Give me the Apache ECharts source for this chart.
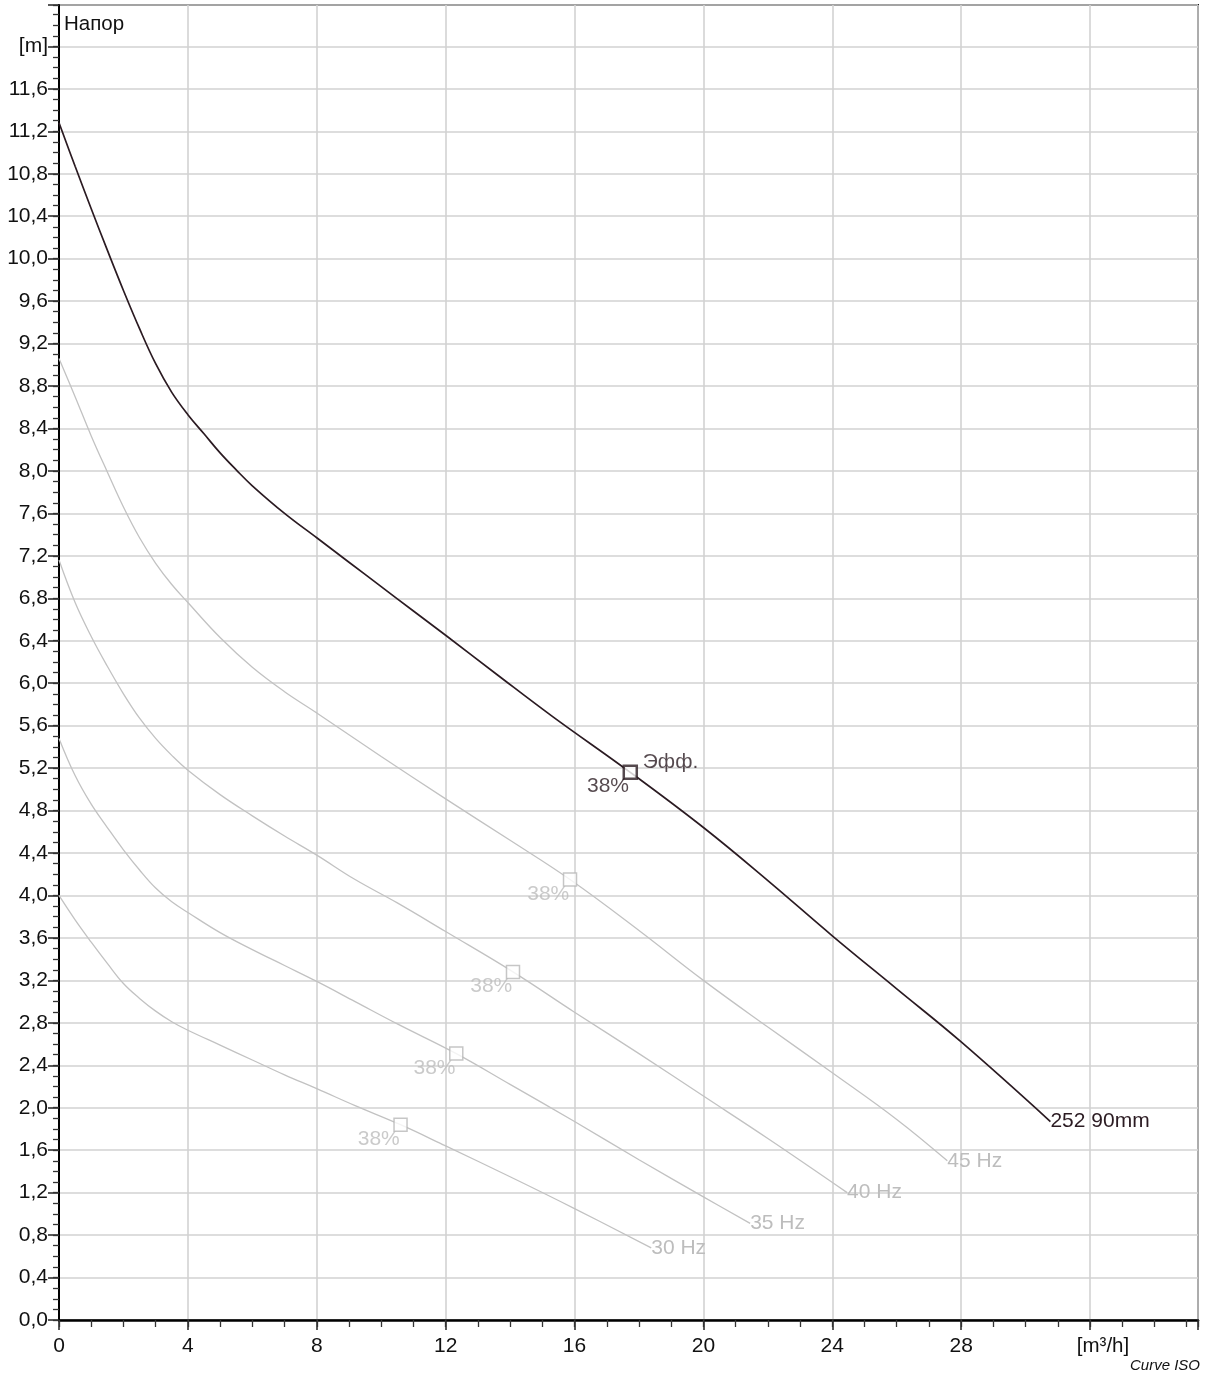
<!DOCTYPE html>
<html><head><meta charset="utf-8">
<script src="https://cdn.jsdelivr.net/npm/echarts@6/dist/echarts.min.js"></script>
<style>html,body{margin:0;padding:0;background:#fff}#c{width:1206px;height:1378px}</style>
</head><body><div id="c"></div>
<script>
// Q [m3/h], H [m]
const mainCurve = [[0,11.28],[0.5,10.87],[1.0,10.47],[1.5,10.08],[2.0,9.70],[2.5,9.34],[3.0,9.01],[3.5,8.74],[4.0,8.53],[4.5,8.35],[5.0,8.17],[5.5,8.01],[6.0,7.86],[7.0,7.60],[8.0,7.37],[9.0,7.14],[10.0,6.91],[11.0,6.68],[12.05,6.44],[13.6,6.08],[15.3,5.69],[17.73,5.16],[20,4.64],[22,4.14],[24,3.62],[26,3.12],[28,2.62],[30.77,1.87]];
const curve45 = [[0,9.06],[0.5,8.70],[1.0,8.33],[1.5,7.99],[2.0,7.66],[2.5,7.37],[3.0,7.13],[3.5,6.93],[4.0,6.76],[5.0,6.43],[6.0,6.15],[7.0,5.92],[8.0,5.72],[10,5.31],[12,4.91],[14,4.52],[15.86,4.15],[18,3.67],[20,3.20],[22,2.76],[24,2.33],[26,1.89],[27.57,1.50]];
const curve40 = [[0,7.16],[0.5,6.76],[1.0,6.44],[1.5,6.16],[2.0,5.90],[2.5,5.67],[3.0,5.48],[3.5,5.32],[4.0,5.18],[5.0,4.95],[6.0,4.75],[7.0,4.56],[8.0,4.38],[9.19,4.15],[10.5,3.93],[12,3.66],[14.09,3.28],[16,2.90],[18,2.51],[20,2.11],[22,1.71],[24.46,1.20]];
const curve35 = [[0,5.48],[0.5,5.13],[1.0,4.86],[1.5,4.64],[2.0,4.43],[2.5,4.24],[3.0,4.07],[3.5,3.94],[4.0,3.84],[5.0,3.65],[6.0,3.49],[7.0,3.34],[8.0,3.19],[9.19,3.0],[10.5,2.79],[12.33,2.51],[14,2.22],[16,1.87],[18,1.51],[20,1.16],[21.45,0.91]];
const curve30 = [[0,4.0],[0.5,3.77],[1.0,3.56],[1.5,3.36],[2.0,3.17],[2.5,3.03],[3.0,2.91],[3.5,2.81],[4.0,2.73],[5.0,2.59],[6.0,2.45],[7.0,2.31],[8.0,2.18],[9.19,2.02],[10.6,1.84],[12,1.64],[14,1.35],[16,1.05],[18.38,0.68]];
const bepMain = [[17.73,5.16]];
const bepGray = [[15.86,4.15],[14.09,3.28],[12.33,2.51],[10.6,1.84]];
const curveNames = ['252 90mm','45 Hz','40 Hz','35 Hz','30 Hz'];
const effName = 'Эфф.';
const effValue = '38%';
const yTitle = 'Напор';
const yUnit = '[m]';
const xUnit = '[m³/h]';
const footer = 'Curve ISO';

const FONT = '"Liberation Sans", Arial, sans-serif';
const DARK = '#2b1b22';
const GRAY = '#c2c2c2';
const GRAYTXT = '#bdbdbd';

const chart = echarts.init(document.getElementById('c'), null, {renderer:'canvas'});
function isMult(v, s){ const r = v/s; return Math.abs(r-Math.round(r))<1e-6; }

const grayLine = (data, name) => ({
  type:'line', data, smooth:0.4, showSymbol:false, silent:true, z:3,
  lineStyle:{color:GRAY, width:1.3},
  endLabel:{show:true, formatter:name, color:GRAYTXT, fontSize:21, fontFamily:FONT, distance:0}
});

chart.setOption({
  animation:false,
  grid:{left:59, right:8, top:5, bottom:58, show:true, borderColor:'#1a1a1a', borderWidth:2, backgroundColor:'#fff'},
  xAxis:[{
    type:'value', min:0, max:35.35, interval:4,
    axisLine:{show:true, onZero:false, lineStyle:{color:'#000', width:2.5}},
    axisTick:{show:true, length:10, lineStyle:{color:'#222', width:1.5}},
    axisLabel:{margin:16, color:'#111', fontSize:21, fontFamily:FONT,
      formatter:v => (v<=28.001 && isMult(v,4)) ? String(Math.round(v)) : ''},
    splitLine:{show:true, lineStyle:{color:'#d2d2d2', width:1.6}}
  },{
    type:'value', min:0, max:35.35, interval:1, position:'bottom',
    axisLine:{show:false}, axisLabel:{show:false}, splitLine:{show:false},
    axisTick:{show:true, length:7, lineStyle:{color:'#333', width:1.3}}
  }],
  yAxis:[{
    type:'value', min:0, max:12.39, interval:0.4,
    axisLine:{show:true, onZero:false, lineStyle:{color:'#000', width:2}},
    axisTick:{show:true, length:11, lineStyle:{color:'#222', width:1.5}},
    axisLabel:{margin:11, color:'#111', fontSize:21, fontFamily:FONT,
      formatter:v => Math.abs(v-12)<1e-6 ? yUnit : (isMult(v,0.4) ? v.toFixed(1).replace('.',',') : '')},
    splitLine:{show:true, lineStyle:{color:'#d2d2d2', width:1.6}}
  },{
    type:'value', min:0, max:12.39, interval:0.1, position:'left',
    axisLine:{show:false}, axisLabel:{show:false}, splitLine:{show:false},
    axisTick:{show:true, length:6, lineStyle:{color:'#333', width:1.3}}
  }],
  graphic:[
    {type:'text', x:64, y:24, style:{text:yTitle, fill:'#111', font:'20.5px '+FONT, textVerticalAlign:'middle'}},
    {type:'text', x:1103, y:1346, style:{text:xUnit, fill:'#111', font:'20.5px '+FONT, textAlign:'center', textVerticalAlign:'middle'}},
    {type:'text', x:1200, y:1366, style:{text:footer, fill:'#111', font:'italic 15px '+FONT, textAlign:'right', textVerticalAlign:'middle'}}
  ],
  series:[
    grayLine(curve45, curveNames[1]),
    grayLine(curve40, curveNames[2]),
    grayLine(curve35, curveNames[3]),
    grayLine(curve30, curveNames[4]),
    {type:'line', data:mainCurve, smooth:0.4, showSymbol:false, silent:true, z:5,
      lineStyle:{color:DARK, width:1.7},
      endLabel:{show:true, formatter:curveNames[0], color:DARK, fontSize:21, fontFamily:FONT, distance:0}},
    {type:'scatter', data:bepGray, symbol:'rect', symbolSize:13, z:6,
      itemStyle:{color:'#fff', borderColor:'#b8b8b8', borderWidth:1.5},
      label:{show:true, formatter:effValue, position:[6.5,22], align:'right', verticalAlign:'middle', color:GRAYTXT, fontSize:21, fontFamily:FONT}},
    {type:'scatter', data:bepMain, symbol:'rect', symbolSize:13, z:7,
      itemStyle:{color:'#fff', borderColor:DARK, borderWidth:2.5},
      label:{show:true, formatter:effValue, position:[6.5,22], align:'right', verticalAlign:'middle', color:DARK, fontSize:21, fontFamily:FONT}},
    {type:'scatter', data:bepMain, symbol:'rect', symbolSize:13, z:7,
      itemStyle:{color:'transparent', borderWidth:0},
      label:{show:true, formatter:effName, position:[19,-4], align:'left', verticalAlign:'middle', color:DARK, fontSize:21, fontFamily:FONT}}
  ]
});
</script></body></html>
